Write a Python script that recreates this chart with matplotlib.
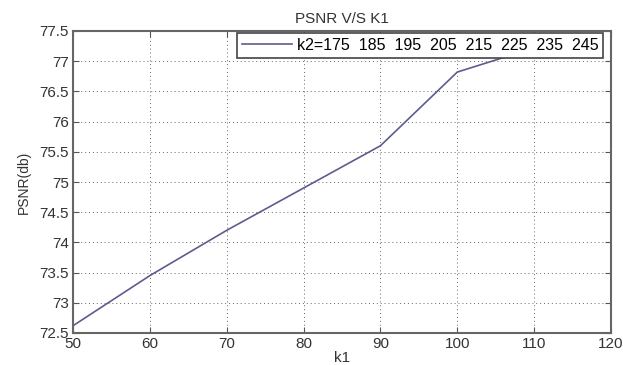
import matplotlib
matplotlib.use("Agg")
import matplotlib.pyplot as plt

k1 = [50, 60, 70, 80, 90, 100, 110]
psnr = [72.62, 73.45, 74.2, 74.9, 75.6, 76.82, 77.22]
xticks = [50, 60, 70, 80, 90, 100, 110, 120]
yticks = [72.5, 73, 73.5, 74, 74.5, 75, 75.5, 76, 76.5, 77, 77.5]
ytick_labels = ["72.5", "73", "73.5", "74", "74.5", "75", "75.5", "76", "76.5", "77", "77.5"]
label = "k2=175  185  195  205  215  225  235  245"

plt.rcParams['font.family'] = ['Liberation Sans', 'DejaVu Sans']
W, H = 623, 365
fig = plt.figure(figsize=(W / 100, H / 100), dpi=100)
# axes box in pixels: left 73, right 611, top 31, bottom 333
ax = fig.add_axes([73 / W, 1 - 333 / H, 538 / W, 302 / H])

ax.plot(k1, psnr, color="#5c5c8e", lw=1.2, label=label)
ax.set_xlim(50, 120)
ax.set_ylim(72.5, 77.5)
ax.set_xticks(xticks)
ax.set_yticks(yticks)
ax.set_yticklabels(ytick_labels)
ax.grid(True, linestyle=(0, (1, 3)), color="#666666", lw=0.7)
ax.tick_params(direction="in", top=True, right=True, labelsize=11,
               labelcolor="#333333", color="#555555", length=4, pad=3)
for s in ax.spines.values():
    s.set_color("#666666")
    s.set_linewidth(1.5)
ax.set_xlabel("k1", fontsize=11, color="#333333", labelpad=0)
ax.set_ylabel("PSNR(db)", fontsize=10, color="#333333", labelpad=6)
ax.set_title("PSNR V/S K1", fontsize=11, color="#333333", pad=6)
leg = ax.legend(loc="upper right", bbox_to_anchor=(1 - 8 / 538, 1 - 2 / 302),
                fontsize=11.5, fancybox=False, framealpha=1,
                edgecolor="#444444", handlelength=3.1, borderaxespad=0,
                borderpad=0.3, handletextpad=0.3)
leg.get_frame().set_linewidth(1.2)

plt.savefig("out.png", dpi=100)
